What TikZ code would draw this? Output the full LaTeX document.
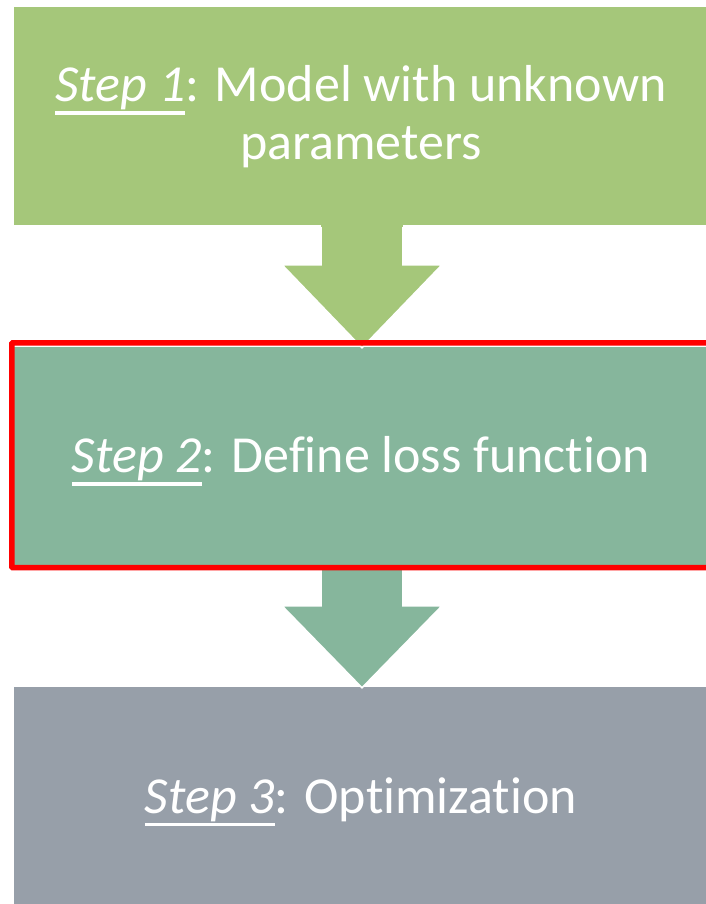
\documentclass[tikz,border=0pt]{standalone}
\usepackage{fontspec}
\setmainfont{Carlito}[Ligatures=NoCommon]
\usetikzlibrary{calc}

\definecolor{stepA}{RGB}{165,199,122}
\definecolor{stepB}{RGB}{134,182,156}
\definecolor{stepC}{RGB}{151,159,169}
\definecolor{focusred}{RGB}{255,0,0}

% underlined italic step label with a heavy rule
\newcommand\steplabel[1]{\setbox0\hbox{\itshape #1}\rlap{\rule[-13pt]{\wd0}{3.6pt}}\box0}
% one text line, lowered by #1 without changing the reported size
\newcommand\textline[2]{\raisebox{-#1}[0pt][0pt]{#2}}

\begin{document}
\begin{tikzpicture}[x=1pt,y=-1pt,
  stepbox/.style={rectangle, minimum width=694pt, minimum height=218pt,
    inner sep=0pt, text=white, align=center,
    font=\fontsize{52}{58}\selectfont},
  flow/.style={draw=white, line width=1.6pt, line join=miter}]
\useasboundingbox (0,0) rectangle (705,904);

\node[stepbox, fill=stepA] (box1) at (361,116)
  {\textline{14.8pt}{\steplabel{Step 1}: Model with unknown}\\
   \textline{14.8pt}{parameters}};
\node[stepbox, fill=stepB] (box2) at (361,456)
  {\textline{16.7pt}{\steplabel{Step 2}: Define loss function}};
\node[stepbox, fill=stepC] (box3) at (361,796)
  {\textline{17.3pt}{\steplabel{Step 3}: Optimization}};

% block arrows between the steps
\coordinate (tip1) at ($(box2.north)+(1,1)$);
\filldraw[fill=stepA, flow]
  ($(box1.south)+(-40,0)$) -- ($(tip1)+(-41,-83)$) -- ($(tip1)+(-80,-83)$)
  -- (tip1) -- ($(tip1)+(80,-83)$) -- ($(tip1)+(41,-83)$)
  -- ($(box1.south)+(42,0)$);
\fill[stepA] ($(box1.south)+(-40.2,-1)$) rectangle ($(box1.south)+(42.2,1.5)$);

\coordinate (tip2) at ($(box3.north)+(1,1)$);
\filldraw[fill=stepB, flow]
  ($(box2.south)+(-40,0)$) -- ($(tip2)+(-41,-82)$) -- ($(tip2)+(-80,-82)$)
  -- (tip2) -- ($(tip2)+(80,-82)$) -- ($(tip2)+(41,-82)$)
  -- ($(box2.south)+(42,0)$);

% highlight frame round the current step
\draw[focusred, line width=5.5pt, rounded corners=1pt]
  ($(box2.north west)+(-2,-4)$) rectangle ($(box2.south east)+(2,2.5)$);
\end{tikzpicture}
\end{document}
